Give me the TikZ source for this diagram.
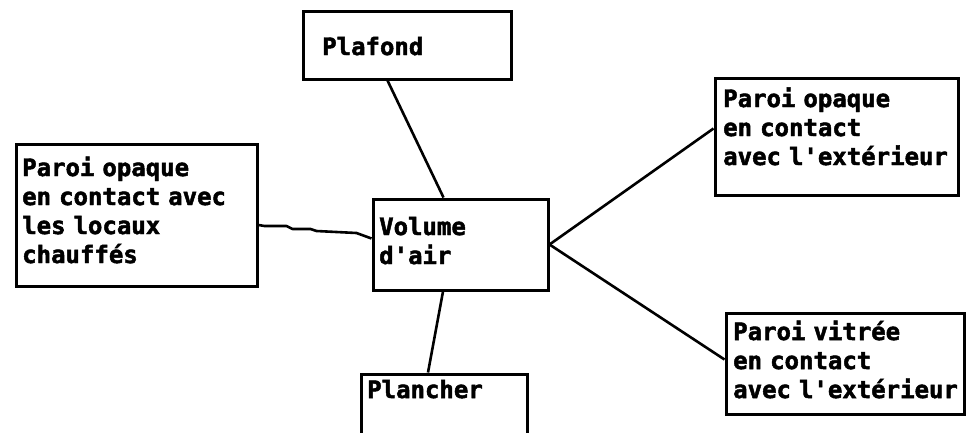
\documentclass[tikz,border=0pt]{standalone}
\usepackage{fontspec}
\setmonofont{DejaVu Sans Mono}[BoldFeatures={FakeBold=2}]
\usetikzlibrary{positioning}

\tikzset{
  boite/.style={draw, line width=3pt, anchor=north west, inner sep=0pt},
  texte/.style={font=\fontsize{24}{29}\selectfont\ttfamily\bfseries,
    align=left, text width=250pt, anchor=base west, inner sep=0pt},
  lien/.style={line width=2.6pt, line join=round}
}

\begin{document}
\begin{tikzpicture}[x=1pt,y=-1pt]
    \useasboundingbox (0,0) rectangle (968,432);

    % cadres
    \node[boite, minimum width=208pt, minimum height=68pt] (plafond) at (301.5,9.5) {};
    \node[boite, minimum width=241pt, minimum height=142pt] (gauche) at (14.5,142.5) {};
    \node[boite, minimum width=175pt, minimum height=91pt] (volume) at (371.5,197.5) {};
    \node[boite, minimum width=166pt, minimum height=100pt] (plancher) at (359.5,372.5) {};
    \node[boite, minimum width=243pt, minimum height=117pt] (exterieur) at (713.5,76.5) {};
    \node[boite, minimum width=238pt, minimum height=101pt] (vitree) at (724.5,311.5) {};

    % textes
    \node[texte] (t-plafond) at (322,55) {Plafond};
    \node[texte] (t-gauche) at (22,176) {Paroi opaque\\en contact avec\\les locaux\\chauffés};
    \node[texte] (t-volume) at (379,235) {Volume\\d'air};
    \node[texte] (t-plancher) at (367,398) {Plancher};
    \node[texte] (t-exterieur) at (723,107) {Paroi opaque\\en contact\\avec l'extérieur};
    \node[texte] (t-vitree) at (733,340) {Paroi vitrée\\en contact\\avec l'extérieur};

    % liaisons
    \draw[lien] ([xshift=86pt]plafond.south west) -- ([xshift=72pt]volume.north west);
    \draw[lien] ([yshift=-10pt]gauche.east) -- ++(6,1) -- ++(22,0) -- ++(6,3) -- ++(18,0)
        -- ++(6,2) -- ++(20,1) -- ++(20,1) -- ([yshift=6pt]volume.west);
    \draw[lien] ([xshift=71.5pt]volume.south west) -- ([xshift=68.5pt]plancher.north west);
    \draw[lien] (volume.east) -- ([yshift=8pt]exterieur.west);
    \draw[lien] (volume.east) -- ([yshift=4pt]vitree.west);
\end{tikzpicture}
\end{document}
